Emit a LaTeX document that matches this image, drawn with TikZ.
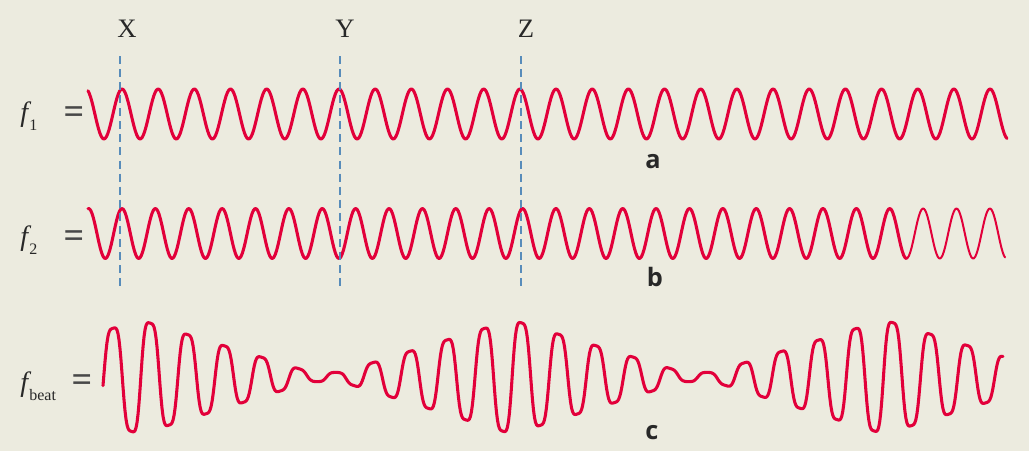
\documentclass[tikz,border=0pt]{standalone}
\usepackage{fontspec}
\setmainfont{Liberation Serif}
\newfontfamily\tagfont{Open Sans}
\usetikzlibrary{positioning}

\definecolor{paper}{RGB}{236,235,223}
\definecolor{wavered}{RGB}{226,0,58}
\definecolor{guideblue}{RGB}{88,140,186}
\definecolor{ink}{RGB}{40,40,40}

\newcommand\wavesub[1]{\kern1pt\raisebox{-6.75pt}{\normalfont\fontsize{12}{12}\selectfont #1}}

\tikzset{
  wave/.style={draw=wavered, line width=2.3pt, line join=round, line cap=round},
  thinwave/.style={wave, line width=1.5pt},
  guide/.style={draw=guideblue, line width=1.1pt, dash pattern=on 6pt off 3.8pt},
  marker/.style={text=ink, font=\fontsize{20}{20}\selectfont, inner sep=0pt},
  tag/.style={text=ink, font=\tagfont\bfseries\fontsize{19}{19}\selectfont, inner sep=0pt},
  fname/.style={text=ink, font=\fontsize{21}{21}\selectfont\itshape, inner sep=0pt, anchor=base west},
  eqsign/.style={text=ink!85, font=\bfseries\fontsize{27}{27}\selectfont, inner sep=0pt},
}

\begin{document}
\begin{tikzpicture}[x=0.75pt, y=-0.75pt]
  \fill[paper] (0,0) rectangle (1029,451);
  \useasboundingbox (0,0) rectangle (1029,451);

  % names of the waves
  \node[fname] (lab1) at (20,121) {f\wavesub{1}};
  \node[eqsign] (eq1) at (74,115) {=};
  \node[fname] (lab2) at (20,245) {f\wavesub{2}};
  \node[eqsign] (eq2) at (74,239) {=};
  \node[fname] (lab3) at (20,391) {f\wavesub{beat}};
  \node[eqsign] (eq3) at (82,383) {=};

  % the three waves
  \draw[wave] plot[domain=88:1007, samples=700] (\x, {114 - 25*cos(9.953*(\x-122))});
  \draw[wave] plot[domain=88:906.4, samples=600] (\x, {233.5 - 25*cos(10.785*(\x-122))});
  \draw[thinwave] plot[domain=906.4:1005, samples=80] (\x, {233.5 - 25*cos(10.785*(\x-122))});
  \draw[wave] plot[domain=103:1003, samples=900]
    (\x, {377 - 57*max(0.08, abs(mod(\x+232,372)/186-1))*sin(90*cos(9.6957*(\x-113)))});

  % markers
  \node[marker] (X) at (127,29) {X};
  \node[marker] (Y) at (345,29) {Y};
  \node[marker] (Z) at (526,29) {Z};
  \coordinate (X top) at (120,56);
  \coordinate (X bot) at (120,290);
  \coordinate (Y top) at (340,56);
  \coordinate (Y bot) at (340,290);
  \coordinate (Z top) at (521,56);
  \coordinate (Z bot) at (521,290);
  \draw[guide] (X top) -- (X bot);
  \draw[guide] (Y top) -- (Y bot);
  \draw[guide] (Z top) -- (Z bot);

  % panel letters
  \node[tag] (a) at (653,162) {a};
  \node[tag] (b) at (655,277) {b};
  \node[tag] (c) at (652,433) {c};
\end{tikzpicture}
\end{document}
